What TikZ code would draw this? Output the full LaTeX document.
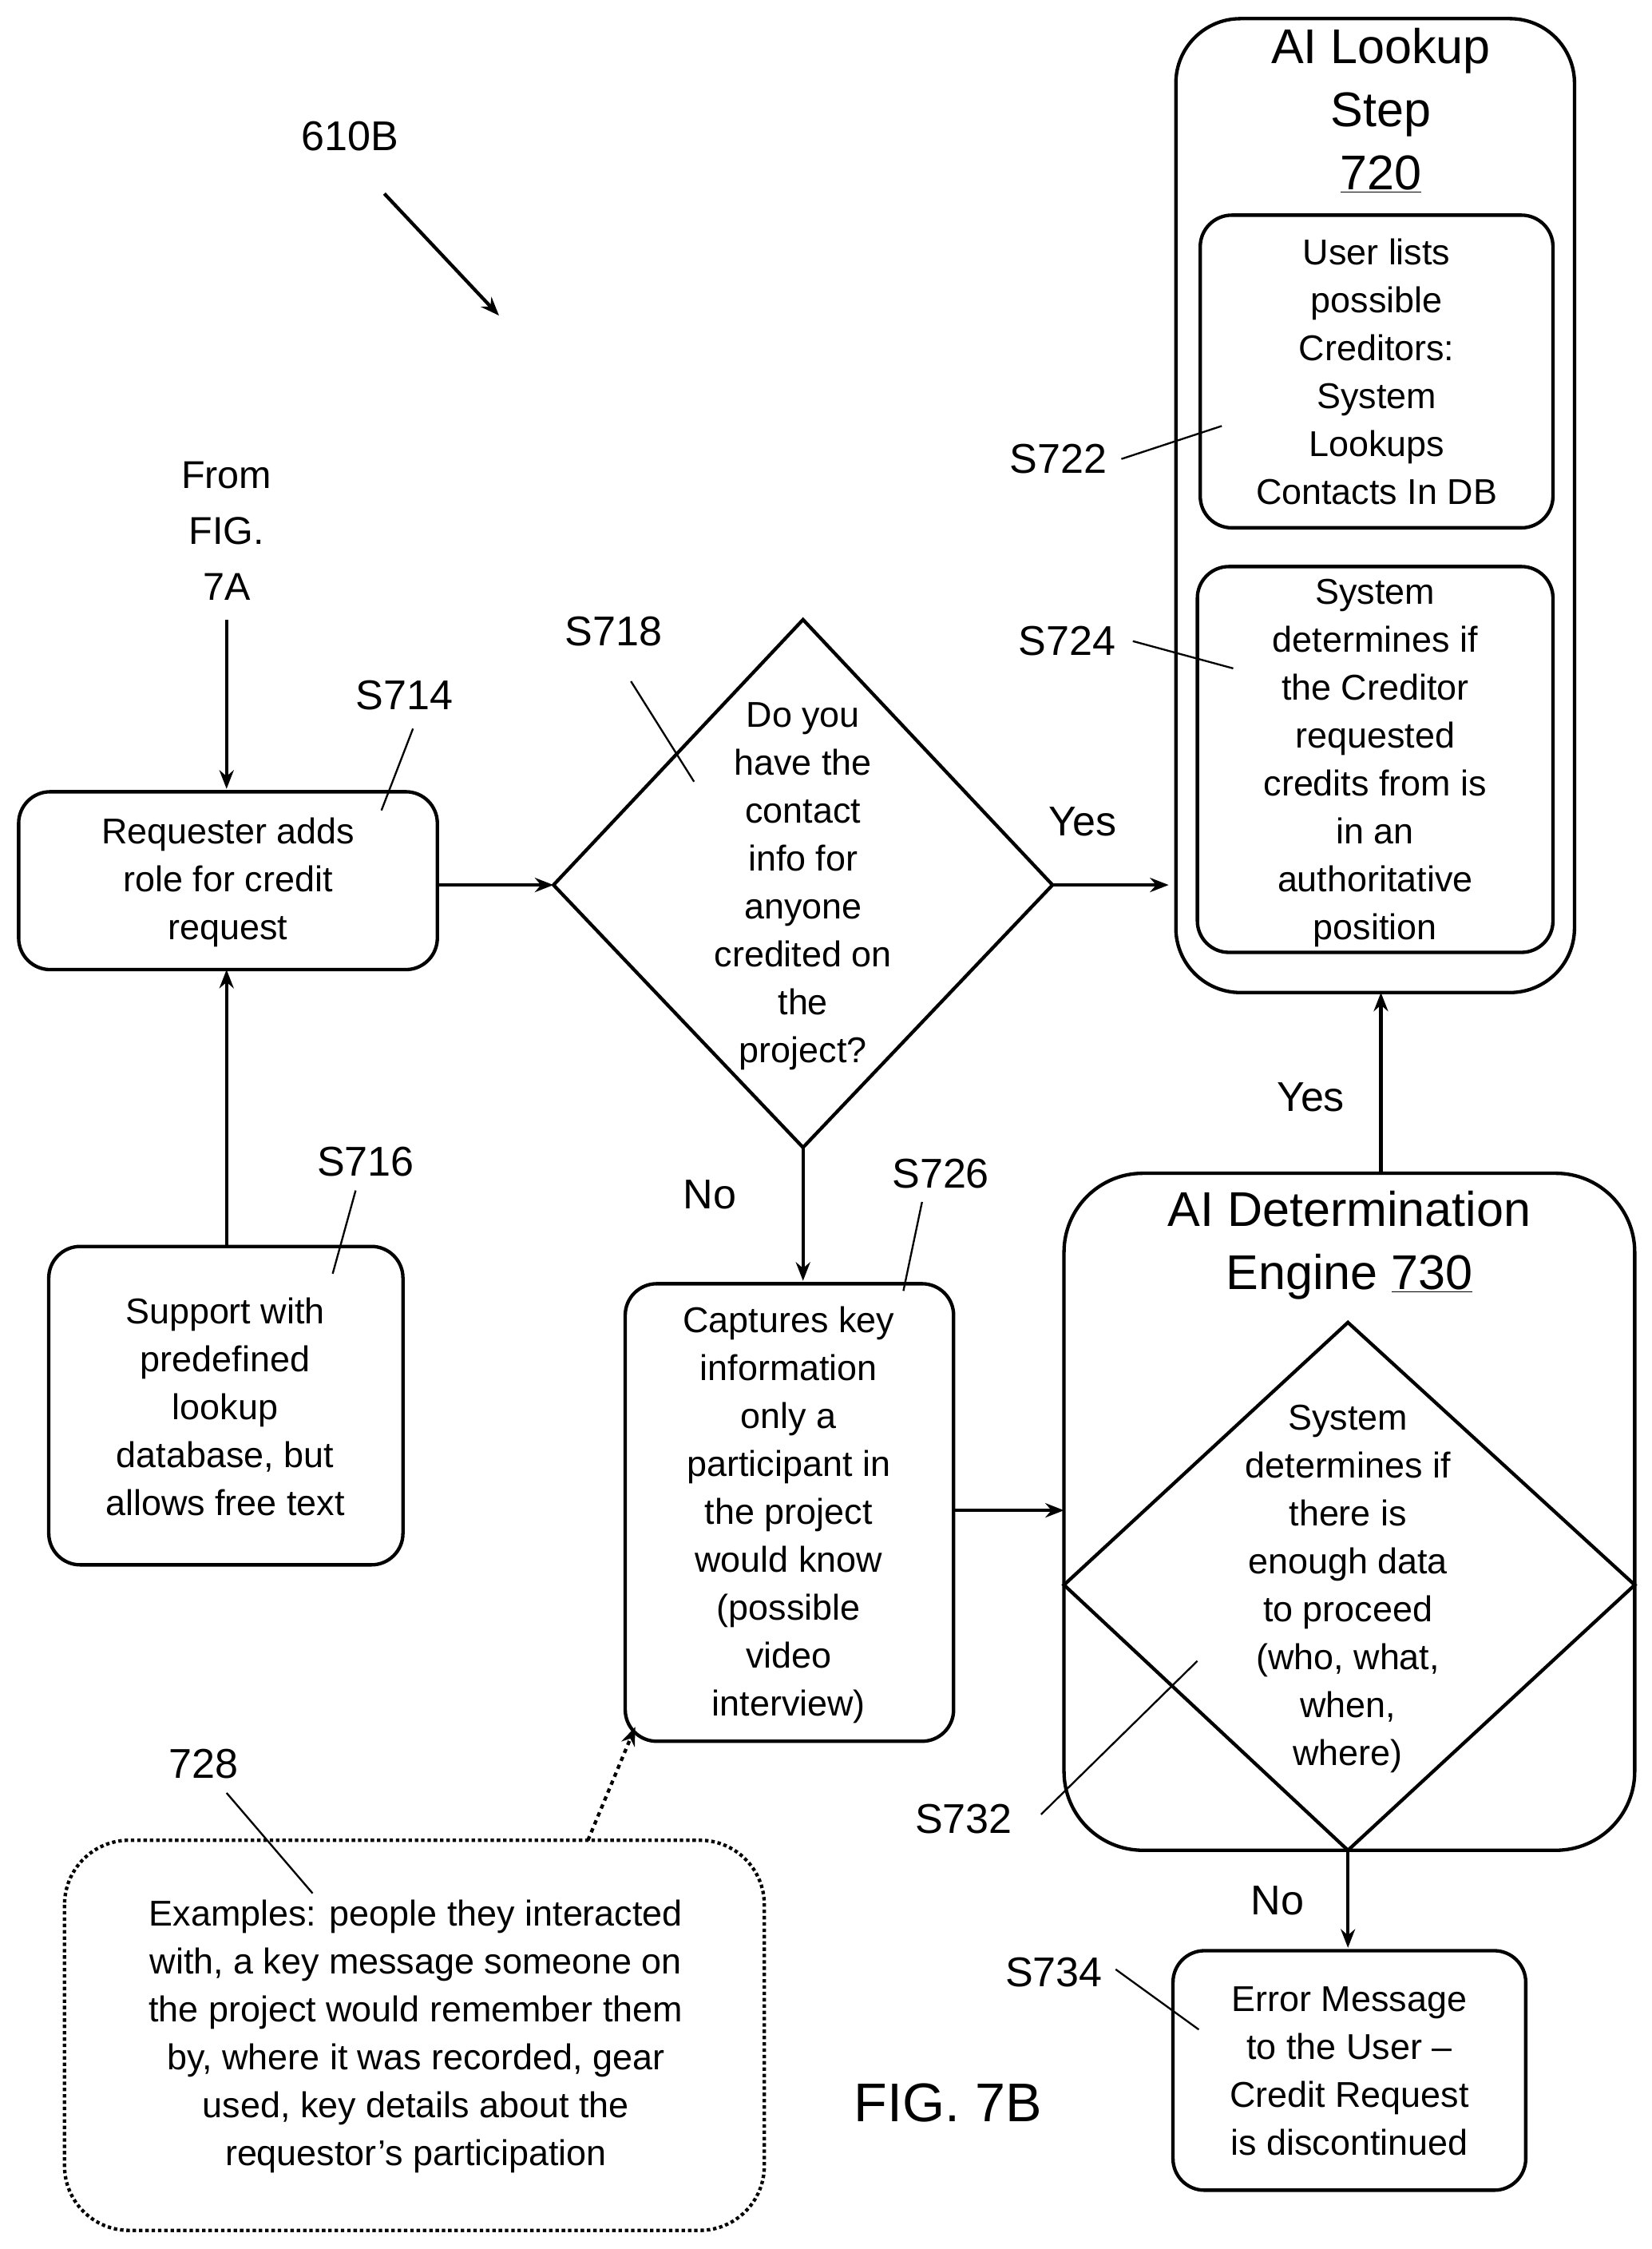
\documentclass[tikz,border=0pt]{standalone}
\usepackage{fontspec}
\setmainfont{Liberation Sans}
\usetikzlibrary{arrows.meta}
\begin{document}
\begin{tikzpicture}[x=1pt,y=-1pt,line width=2.4pt,
  box/.style={draw,rounded corners=22pt},
  txt/.style={align=center,font=\fontsize{25}{33.4}\selectfont,inner sep=0},
  big/.style={align=center,font=\fontsize{34}{44}\selectfont,inner sep=0},
  lbl/.style={font=\fontsize{29}{33}\selectfont,inner sep=0},
  arr/.style={-{Stealth[length=13pt,width=10pt]}},
  lead/.style={line width=1.3pt}]
\useasboundingbox (0,0) rectangle (1152,1568);
% 610B
\node[lbl] (l610) at (244,95) {610B};
\coordinate (a1) at (268,135); \coordinate (a2) at (348,220);
\draw[arr] (a1) -- (a2);
% From
\node[txt,font=\fontsize{27}{39}\selectfont] (from) at (158,370) {From\\FIG.\\7A};
% S714
\draw[box] (13,552) rectangle (305,676);
\node[txt] (s714) at (159,615) {Requester adds\\role for credit\\request};
\coordinate (fa) at (158,432); \coordinate (fb) at (158,550);
\draw[arr] (fa) -- (fb);
\node[lbl] (L714) at (282,485) {S714};
\draw[lead] (288,508) -- (266,565);
% S716
\draw[box] (34,869) rectangle (281,1091);
\node[txt] (s716) at (157,981) {Support with\\predefined\\lookup\\database, but\\allows free text};
\coordinate (ua) at (158,869); \coordinate (ub) at (158,676);
\draw[arr] (ua) -- (ub);
\node[lbl] (L716) at (255,810) {S716};
\draw[lead] (248,830) -- (232,888);
% Diamond S718
\draw (560,432) -- (734,617) -- (560,800) -- (386,617) -- cycle;
\node[txt] (s718) at (560,618) {Do you\\have the\\contact\\info for\\anyone\\credited on\\the\\project?};
\coordinate (da) at (305,617); \coordinate (db) at (386,617);
\draw[arr] (da) -- (db);
\node[lbl] (L718) at (428,440) {S718};
\draw[lead] (440,475) -- (484,545);
\coordinate (ya) at (734,617); \coordinate (yb) at (815,617);
\draw[arr] (ya) -- (yb);
\node[lbl] (yes1) at (755,573) {Yes};
% AI lookup
\draw[rounded corners=45pt] (820,13) rectangle (1098,692);
\node[big] (t720) at (963,77) {AI Lookup\\Step\\\underline{720}};
\draw[box] (837,150) rectangle (1083,368);
\node[txt] (s722) at (960,259) {User lists\\possible\\Creditors:\\System\\Lookups\\Contacts In DB};
\node[lbl] (L722) at (738,320) {S722};
\draw[lead] (782,320) -- (852,297);
\draw[box] (835,395) rectangle (1083,664);
\node[txt] (s724) at (959,532) {System\\determines if\\the Creditor\\requested\\credits from is\\in an\\authoritative\\position};
\node[lbl] (L724) at (744,447) {S724};
\draw[lead] (790,447) -- (860,466);
% No
\coordinate (na) at (560,800); \coordinate (nb) at (560,893);
\draw[arr] (na) -- (nb);
\node[lbl] (no1) at (495,833) {No};
% S726
\draw[box] (436,895) rectangle (665,1214);
\node[txt] (s726) at (550,1056) {Captures key\\information\\only a\\participant in\\the project\\would know\\(possible\\video\\interview)};
\node[lbl] (L726) at (656,818) {S726};
\draw[lead] (643,838) -- (630,900);
\coordinate (ca) at (665,1053); \coordinate (cb) at (742,1053);
\draw[arr] (ca) -- (cb);
% AI Determination
\draw[rounded corners=55pt] (742,818) rectangle (1140,1290);
\node[big] (t730) at (941,868) {AI Determination\\Engine \underline{730}};
\draw (940,922) -- (1140,1105) -- (940,1290) -- (742,1105) -- cycle;
\node[txt] (s732) at (940,1108) {System\\determines if\\there is\\enough data\\to proceed\\(who, what,\\when,\\where)};
\node[lbl] (L732) at (672,1268) {S732};
\draw[lead] (726,1265) -- (835,1158);
\coordinate (ea) at (963,818); \coordinate (eb) at (963,692);
\draw[arr] (ea) -- (eb);
\node[lbl] (yes2) at (914,765) {Yes};
\coordinate (ga) at (940,1290); \coordinate (gb) at (940,1358);
\draw[arr] (ga) -- (gb);
\node[lbl] (no2) at (891,1325) {No};
% S734
\draw[box] (818,1360) rectangle (1064,1527);
\node[txt] (s734) at (941,1444) {Error Message\\to the User --\\Credit Request\\is discontinued};
\node[lbl] (L734) at (735,1375) {S734};
\draw[lead] (778,1373) -- (836,1415);
% 728
\draw[rounded corners=45pt,dotted,line width=2.4pt] (45,1283) rectangle (533,1555);
\node[txt] (t728) at (290,1420) {Examples: people they interacted\\with, a key message someone on\\the project would remember them\\by, where it was recorded, gear\\used, key details about the\\requestor's participation};
\node[lbl] (L728) at (142,1230) {728};
\draw[lead] (158,1250) -- (218,1320);
\coordinate (xa) at (410,1283); \coordinate (xb) at (443,1204);
\draw[arr,dashed] (xa) -- (xb);
% Fig
\node[big,font=\fontsize{38}{44}\selectfont] (fig) at (661,1466) {FIG. 7B};
\end{tikzpicture}
\end{document}
